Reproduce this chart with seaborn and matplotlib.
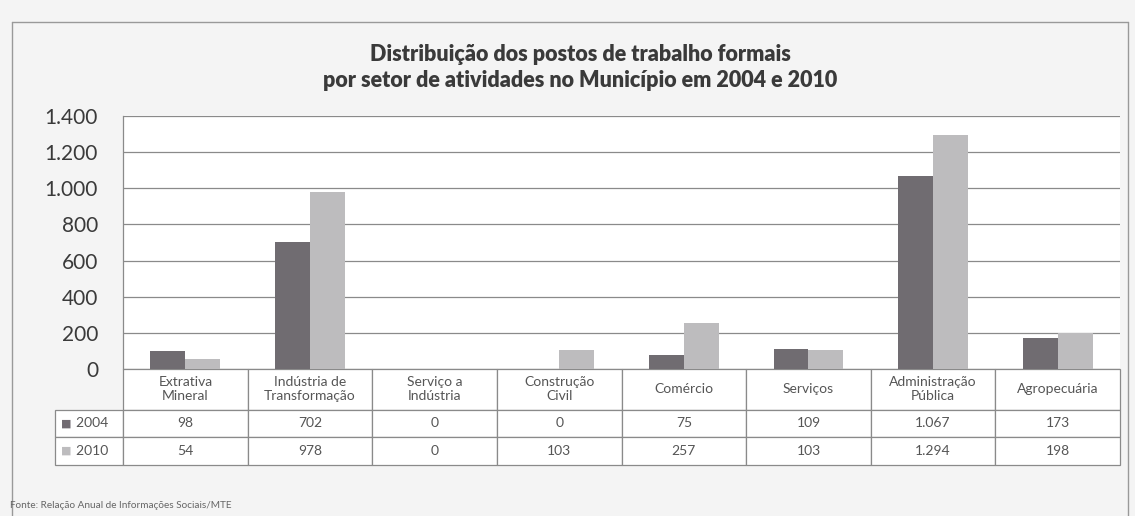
import pandas as pd
import matplotlib.pyplot as plt
import seaborn as sns
from matplotlib.lines import Line2D

setores = ["Extrativa\nMineral", "Indústria de\nTransformação", "Serviço a\nIndústria",
           "Construção\nCivil", "Comércio", "Serviços", "Administração\nPública", "Agropecuária"]
anos = ["2004", "2010"]
postos_2004 = [98, 702, 0, 0, 75, 109, 1067, 173]
postos_2010 = [54, 978, 0, 103, 257, 103, 1294, 198]
yticks = [0, 200, 400, 600, 800, 1000, 1200, 1400]

cores = {"2004": "#716b72", "2010": "#bdbcbe"}

df = pd.DataFrame({
    "Setor": setores * 2,
    "Ano": ["2004"] * len(setores) + ["2010"] * len(setores),
    "Postos": postos_2004 + postos_2010,
})

sns.set_theme(style="white")
plt.rcParams["font.family"] = ["Lato", "DejaVu Sans"]

fig = plt.figure(figsize=(11.35, 5.16), dpi=100)
ax = fig.add_axes([0.1084, 0.2849, 0.8784, 0.4903])

sns.barplot(data=df, x="Setor", y="Postos", hue="Ano", palette=cores,
            width=0.56, gap=0, edgecolor="none", legend=False, ax=ax)

fmt = lambda v: f"{v:,}".replace(",", ".")

ax.set_ylim(0, 1400)
ax.set_xlim(-0.5, len(setores) - 0.5)
ax.set_yticks(yticks)
ax.set_yticklabels([fmt(v) for v in yticks], fontsize=15, color="#3a3a3a")
ax.tick_params(axis="y", length=0, pad=18)
ax.set_xticks([])
ax.set_xlabel("")
ax.set_ylabel("")
ax.yaxis.grid(True, color="#8a8a8a", linewidth=0.9)
ax.set_axisbelow(True)
for s in ["top", "right", "bottom"]:
    ax.spines[s].set_visible(False)
ax.spines["left"].set_color("#8a8a8a")
ax.spines["left"].set_linewidth(0.9)

cell_text = [[""] + setores,
             ["2004"] + [fmt(v) for v in postos_2004],
             ["2010"] + [fmt(v) for v in postos_2010]]
first_w = 68 / 997
col_w = [first_w] + [1 / 8] * 8
tb = ax.table(cellText=cell_text, colWidths=col_w, cellLoc="center",
              bbox=[-first_w, -0.379, 1 + first_w, 0.379])
tb.auto_set_font_size(False)
heights = [41, 27, 28]
for (r, c), cell in tb.get_celld().items():
    cell.set_height(heights[r])
    cell.set_edgecolor("#8a8a8a")
    cell.set_linewidth(0.9)
    cell.get_text().set_fontsize(10)
    cell.get_text().set_color("#555555")
    if r == 0 and c == 0:
        cell.visible_edges = "open"
    if c == 0 and r > 0:
        cell.get_text().set_text("  " + cell_text[r][0])
        cell._loc = "left"

# legend squares in the table
for i, ano in enumerate(anos):
    yc = -0.379 + (28 + 27 * (1 - i) - 14) / 96 * 0.379
    ax.text(-first_w + 0.006, yc, "■", transform=ax.transAxes, color=cores[ano],
            fontsize=8, va="center", ha="left", family="DejaVu Sans")

fig.text(0.511, 0.87, "Distribuição dos postos de trabalho formais\npor setor de atividades no Município em 2004 e 2010",
         ha="center", va="center", fontsize=15.5, fontweight="heavy", color="#3a3a3a", linespacing=1.3)

fig.text(0.009, 0.021, "Fonte: Relação Anual de Informações Sociais/MTE", fontsize=7.2, color="#666666",
         ha="left", va="center")

# outer frame
fig.add_artist(Line2D([0.0106, 0.0106], [0.0, 0.957], color="#999999", lw=1, transform=fig.transFigure))
fig.add_artist(Line2D([0.0106, 0.994], [0.957, 0.957], color="#999999", lw=1, transform=fig.transFigure))
fig.add_artist(Line2D([0.994, 0.994], [0.0, 0.957], color="#999999", lw=1, transform=fig.transFigure))

fig.savefig("out.png", dpi=100, facecolor="#f4f4f4")
